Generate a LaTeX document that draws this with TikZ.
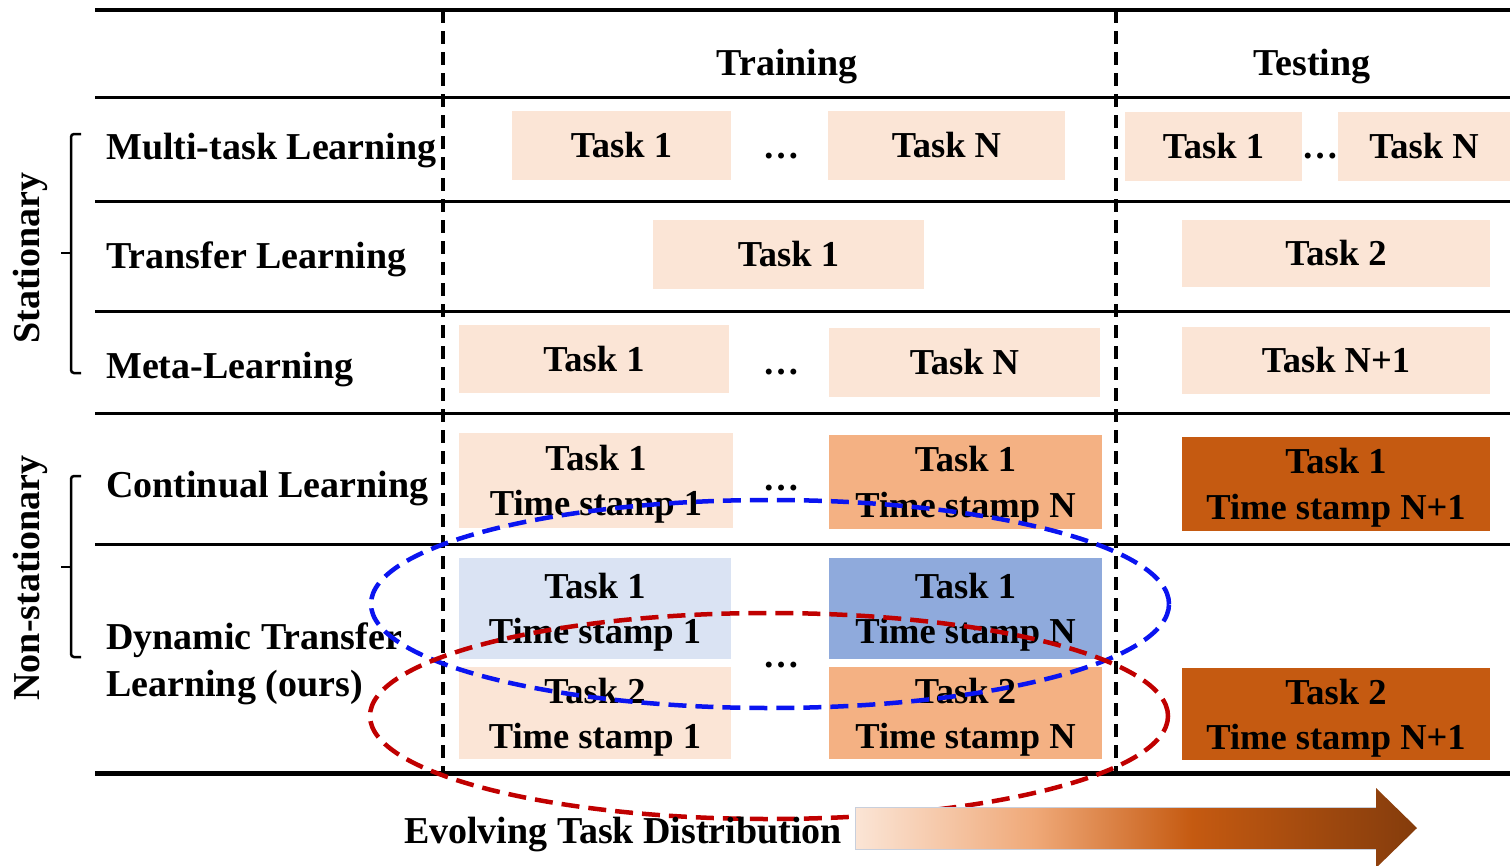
\documentclass[tikz,border=0pt]{standalone}
\usepackage{fontspec}
\setmainfont{Liberation Serif}
\definecolor{peach}{HTML}{FBE5D6}
\definecolor{midor}{HTML}{F4B183}
\definecolor{darkor}{HTML}{C55A11}
\definecolor{ltblue}{HTML}{DAE3F3}
\definecolor{mdblue}{HTML}{8FAADC}
\definecolor{ellblue}{HTML}{0A14F0}
\definecolor{ellred}{HTML}{C00000}
\definecolor{brownend}{HTML}{843C0C}
\pgfdeclarehorizontalshading{evoshade}{100bp}{color(0bp)=(peach); color(25bp)=(peach); color(41bp)=(midor!90!darkor); color(55bp)=(darkor); color(75bp)=(brownend); color(100bp)=(brownend)}
\begin{document}
\begin{tikzpicture}[x=1pt,y=-1pt,
  font=\fontsize{38}{47}\selectfont\bfseries,
  box/.style={inner sep=0pt, align=center, font=\fontsize{36.5}{45.5}\selectfont\bfseries},
  rowlabel/.style={anchor=base west, inner sep=0pt},
  head/.style={anchor=base, inner sep=0pt},
  dots/.style={anchor=base, inner sep=0pt, font=\fontsize{36.5}{45}\selectfont\bfseries},
  hline/.style={line width=3pt},
  vdash/.style={line width=3.5pt, dash pattern=on 13pt off 8pt},
  ell/.style={line width=4.5pt, dash pattern=on 18pt off 9pt},
  brace/.style={line width=2.5pt, rounded corners=3pt}]
\useasboundingbox (0,0) rectangle (1510,865);

% headers
\node[head] (train) at (787,75) {Training};
\node[head] (test) at (1312,75) {Testing};

% row labels
\node[rowlabel] (l1) at (106,159) {Multi-task Learning};
\node[rowlabel] (l2) at (106,268) {Transfer Learning};
\node[rowlabel] (l3) at (106,378) {Meta-Learning};
\node[rowlabel] (l4) at (106,497) {Continual Learning};
\node[inner sep=0pt, anchor=west, align=left] (l5) at (106,664) {Dynamic Transfer\\Learning (ours)};

% row 1
\node[box, fill=peach, minimum width=219, minimum height=69] (r1a) at (621.5,145.5) {Task 1};
\node[dots] (r1d) at (781,158) {…};
\node[box, fill=peach, minimum width=237, minimum height=69] (r1b) at (946.5,145.5) {Task N};
\node[box, fill=peach, minimum width=177, minimum height=69] (r1c) at (1213.5,146.5) {Task 1};
\node[dots] (r1e) at (1320,158) {…};
\node[box, fill=peach, minimum width=172, minimum height=69] (r1f) at (1424,146.5) {Task N};

% row 2
\node[box, fill=peach, minimum width=271, minimum height=69] (r2a) at (788.5,254.5) {Task 1};
\node[box, fill=peach, minimum width=308, minimum height=67] (r2b) at (1336,253.5) {Task 2};

% row 3
\node[box, fill=peach, minimum width=270, minimum height=68] (r3a) at (594,359) {Task 1};
\node[dots] (r3d) at (781,374) {…};
\node[box, fill=peach, minimum width=271, minimum height=69] (r3b) at (964.5,362.5) {Task N};
\node[box, fill=peach, minimum width=308, minimum height=67] (r3c) at (1336,360.5) {Task N+1};

% row 4
\node[box, fill=peach, minimum width=274, minimum height=95] (r4a) at (596,480.5) {};
\node[box] (r4at) at (596,484) {Task 1\\Time stamp 1};
\node[dots] (r4d) at (781,490) {…};
\node[box, fill=midor, minimum width=273, minimum height=94] (r4b) at (965.5,482) {};
\node[box] (r4bt) at (965.5,485.5) {Task 1\\Time stamp N};
\node[box, fill=darkor, minimum width=308, minimum height=94] (r4c) at (1336,484) {};
\node[box] (r4ct) at (1336,487.5) {Task 1\\Time stamp N+1};

% row 5
\node[box, fill=ltblue, minimum width=272, minimum height=101] (r5a) at (595,608.5) {};
\node[box] (r5at) at (595,612) {Task 1\\Time stamp 1};
\node[box, fill=mdblue, minimum width=273, minimum height=101] (r5b) at (965.5,608.5) {};
\node[box] (r5bt) at (965.5,612) {Task 1\\Time stamp N};
\node[dots] (r5d) at (781,667) {…};
\node[box, fill=peach, minimum width=272, minimum height=92] (r5c) at (595,713) {};
\node[box] (r5ct) at (595,717) {Task 2\\Time stamp 1};
\node[box, fill=midor, minimum width=273, minimum height=92] (r5e) at (965.5,713) {};
\node[box] (r5et) at (965.5,717) {Task 2\\Time stamp N};
\node[box, fill=darkor, minimum width=308, minimum height=92] (r5f) at (1336,714) {};
\node[box] (r5ft) at (1336,718) {Task 2\\Time stamp N+1};

% horizontal rules
\draw[line width=4pt] (95,10) -- (1510,10);
\draw[hline] (95,97) -- (1510,97);
\draw[hline] (95,201) -- (1510,201);
\draw[hline] (95,311) -- (1510,311);
\draw[hline] (95,413) -- (1510,413);
\draw[hline] (95,544) -- (1510,544);
\draw[line width=5pt] (95,773) -- (1510,773);

% vertical dashed separators
\draw[vdash] (443,10) -- (443,773);
\draw[vdash] (1116,10) -- (1116,773);

% braces
\draw[brace] (81,134) -- (71,134) -- (71,373) -- (81,373);
\draw[brace] (71,253) -- (61,253);
\draw[brace] (81,476) -- (71,476) -- (71,657) -- (81,657);
\draw[brace] (71,567) -- (61,567);
\node[rotate=90, inner sep=0pt] (stat) at (30,258) {Stationary};
\node[rotate=90, inner sep=0pt] (nstat) at (30,578) {Non-stationary};

% ellipses
\draw[ell, ellblue] (770,604) ellipse [x radius=399pt, y radius=104pt];
\draw[ell, ellred] (769,716) ellipse [x radius=399pt, y radius=103pt];

% evolving arrow
\shade[shading=evoshade]
  (855,807) -- (1376,807) -- (1376,788) -- (1417,828) -- (1376,868) -- (1376,849) -- (855,849) -- cycle;
\draw[line width=1pt, draw=ltblue!80!gray] (855,807) -- (1376,807) (855,849) -- (1376,849) (855,807) -- (855,849);
\node[head] (evo) at (623,843) {Evolving Task Distribution};
\end{tikzpicture}
\end{document}
